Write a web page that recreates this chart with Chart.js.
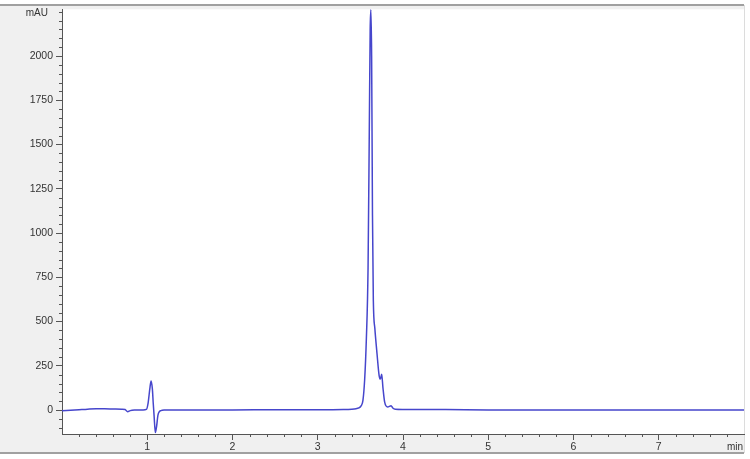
<!DOCTYPE html>
<html>
<head>
<meta charset="utf-8">
<script src="https://cdn.jsdelivr.net/npm/chart.js@4/dist/chart.umd.min.js"></script>
<style>
  html, body { margin: 0; padding: 0; background: #fff; }
  #chart { display: block; }
</style>
</head>
<body>
<canvas id="chart" width="750" height="459"></canvas>
<script>
// retention time (min) and absorbance (mAU)
const times = [0.00, 0.10, 0.20, 0.30, 0.40, 0.50, 0.60, 0.70, 0.74, 0.77, 0.80, 0.85, 0.95, 0.99,
  1.01, 1.03, 1.045, 1.06, 1.07, 1.08, 1.095, 1.11, 1.125, 1.14, 1.16, 1.20, 1.40, 1.60, 2.00,
  2.50, 3.00, 3.30, 3.40, 3.45, 3.48, 3.51, 3.53, 3.55, 3.57, 3.59, 3.605, 3.615, 3.623, 3.632,
  3.642, 3.652, 3.67, 3.695, 3.72, 3.735, 3.75, 3.765, 3.785, 3.82, 3.86, 3.88, 3.91, 4.00,
  4.50, 5.00, 6.00, 7.00, 8.00];
const signal = [-4, -1, 2, 5, 7, 7, 6, 5, 3, -9, -3, 0, 1, 4,
  40, 120, 165, 120, 40, -30, -127, -90, -30, -10, -3, 0, 1, 1, 1,
  2, 2, 3, 5, 8, 12, 25, 55, 170, 400, 800, 1600, 2150, 2262, 2000,
  1100, 620, 460, 320, 195, 175, 202, 125, 45, 18, 25, 12, 5, 4,
  3, 1, 0, 0, 0];

const xTicks = [1, 2, 3, 4, 5, 6, 7];
const yTicks = [0, 250, 500, 750, 1000, 1250, 1500, 1750, 2000];
const xMinor = [0.2, 0.4, 0.6, 0.8, 1.2, 1.4, 1.6, 1.8, 2.2, 2.4, 2.6, 2.8, 3.2, 3.4, 3.6, 3.8,
  4.2, 4.4, 4.6, 4.8, 5.2, 5.4, 5.6, 5.8, 6.2, 6.4, 6.6, 6.8, 7.2, 7.4, 7.6, 7.8];
const yMinor = [-100, -50, 50, 100, 150, 200, 300, 350, 400, 450, 550, 600, 650, 700, 800, 850,
  900, 950, 1050, 1100, 1150, 1200, 1300, 1350, 1400, 1450, 1550, 1600, 1650, 1700, 1800, 1850,
  1900, 1950, 2050, 2100, 2150, 2200, 2250];

const points = times.map((t, i) => ({x: t, y: signal[i]}));
const axisColor = '#555';
const tickFont = {family: '"Liberation Sans", Arial, sans-serif', size: 10.5};

const frame = {
  id: 'frame',
  beforeDraw(chart) {
    const ctx = chart.ctx;
    const a = chart.chartArea;
    ctx.save();
    ctx.fillStyle = '#fff';
    ctx.fillRect(0, 0, chart.width, chart.height);
    ctx.fillStyle = '#f0f0f0';
    ctx.fillRect(0, 5, 744, 448);
    ctx.fillStyle = '#fff';
    ctx.fillRect(a.left, a.top, a.right - a.left, a.bottom - a.top);
    ctx.strokeStyle = '#a0a0a0';
    ctx.lineWidth = 2;
    ctx.beginPath();
    ctx.moveTo(0, 5); ctx.lineTo(744, 5);
    ctx.moveTo(0, 453); ctx.lineTo(744, 453);
    ctx.stroke();
    ctx.strokeStyle = '#dcdcdc';
    ctx.lineWidth = 1;
    ctx.beginPath();
    ctx.moveTo(744.5, 5); ctx.lineTo(744.5, 453);
    ctx.stroke();
    ctx.restore();
  },
  afterDraw(chart) {
    const ctx = chart.ctx;
    const a = chart.chartArea;
    const xs = chart.scales.x, ys = chart.scales.y;
    ctx.save();
    ctx.strokeStyle = axisColor;
    ctx.lineWidth = 1;
    ctx.beginPath();
    xMinor.forEach(v => {
      const px = Math.round(xs.getPixelForValue(v)) + 0.5;
      ctx.moveTo(px, a.bottom); ctx.lineTo(px, a.bottom + 3);
    });
    yMinor.forEach(v => {
      const py = Math.round(ys.getPixelForValue(v)) + 0.5;
      ctx.moveTo(a.left, py); ctx.lineTo(a.left - 3, py);
    });
    ctx.stroke();
    ctx.fillStyle = '#333';
    ctx.font = '10px "Liberation Sans", Arial, sans-serif';
    ctx.textAlign = 'right';
    ctx.textBaseline = 'middle';
    ctx.fillText('mAU', 48, 13);
    ctx.textBaseline = 'top';
    ctx.fillText('min', a.right - 1, 442);
    ctx.restore();
  }
};

new Chart(document.getElementById('chart').getContext('2d'), {
  type: 'line',
  data: {
    datasets: [{
      data: points,
      borderColor: '#4646cc',
      borderWidth: 1.5,
      pointRadius: 0,
      fill: false,
      cubicInterpolationMode: 'monotone'
    }]
  },
  options: {
    responsive: false,
    animation: false,
    layout: {padding: {left: 0, right: 6, top: 7, bottom: 0}},
    plugins: {legend: {display: false}, tooltip: {enabled: false}},
    scales: {
      x: {
        type: 'linear',
        min: 0,
        max: 8,
        afterBuildTicks: s => { s.ticks = xTicks.map(v => ({value: v})); },
        afterFit: s => { s.height = 25; },
        ticks: {color: '#333', font: tickFont, padding: 1, maxRotation: 0, autoSkip: false,
          callback: v => String(v)},
        grid: {drawOnChartArea: false, drawTicks: true, tickLength: 6, color: axisColor},
        border: {color: axisColor}
      },
      y: {
        type: 'linear',
        min: -135,
        max: 2264,
        afterBuildTicks: s => { s.ticks = yTicks.map(v => ({value: v})); },
        afterFit: s => { s.width = 62; },
        ticks: {color: '#333', font: tickFont, padding: 3, autoSkip: false,
          callback: v => String(v)},
        grid: {drawOnChartArea: false, drawTicks: true, tickLength: 6, color: axisColor},
        border: {color: axisColor}
      }
    }
  },
  plugins: [frame]
});
</script>
</body>
</html>
